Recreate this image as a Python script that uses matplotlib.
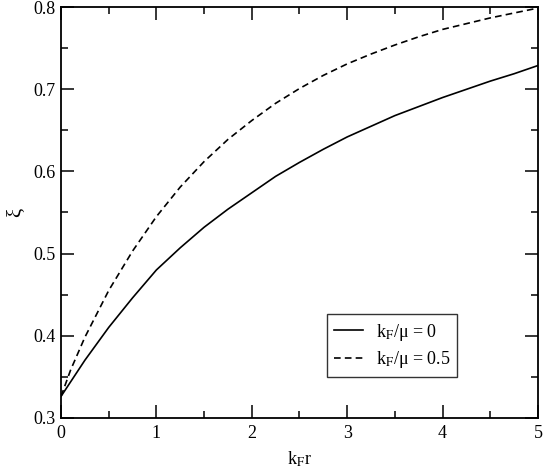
import numpy as np
import matplotlib
matplotlib.use('Agg')
import matplotlib.pyplot as plt
from matplotlib.ticker import MultipleLocator

plt.rcParams['font.family'] = ['Liberation Serif', 'DejaVu Serif']
plt.rcParams['mathtext.fontset'] = 'stix'

# values
kr_solid = [0, 0.25, 0.5, 0.75, 1.0, 1.25, 1.5, 1.75, 2.0, 2.25, 2.5, 2.75,
            3.0, 3.25, 3.5, 3.75, 4.0, 4.25, 4.5, 4.75, 5.0]
xi_solid = [0.326, 0.370, 0.410, 0.446, 0.480, 0.507, 0.532, 0.554, 0.574, 0.594,
            0.611, 0.627, 0.642, 0.655, 0.668, 0.679, 0.690, 0.700, 0.710, 0.719, 0.729]

kr_dash = [0, 0.1, 0.25, 0.5, 0.75, 1.0, 1.25, 1.5, 1.75, 2.0, 2.25, 2.5, 2.75,
           3.0, 3.25, 3.5, 3.75, 4.0, 4.25, 4.5, 4.75, 5.0]
xi_dash = [0.326, 0.358, 0.398, 0.455, 0.503, 0.545, 0.581, 0.612, 0.639, 0.662,
           0.683, 0.701, 0.717, 0.731, 0.743, 0.754, 0.764, 0.773, 0.780, 0.787,
           0.793, 0.799]

x_ticks = [0, 1, 2, 3, 4, 5]
y_ticks = [0.3, 0.4, 0.5, 0.6, 0.7, 0.8]
labels = [r'k$_\mathrm{F}$/μ = 0', r'k$_\mathrm{F}$/μ = 0.5']

fig = plt.figure(figsize=(5.45, 4.68), dpi=100)
ax = fig.add_axes([0.112, 0.1075, 0.875, 0.877])

ax.plot(kr_solid, xi_solid, color='black', lw=1.2, ls='-', label=labels[0])
ax.plot(kr_dash, xi_dash, color='black', lw=1.2, ls=(0, (4, 2.5)), label=labels[1])

ax.set_xlim(0, 5)
ax.set_ylim(0.3, 0.8)
ax.set_xticks(x_ticks)
ax.set_xticklabels([str(t) for t in x_ticks])
ax.set_yticks(y_ticks)
ax.set_yticklabels(['%.1f' % t for t in y_ticks])
ax.xaxis.set_minor_locator(MultipleLocator(0.5))
ax.yaxis.set_minor_locator(MultipleLocator(0.05))
ax.tick_params(which='both', direction='in', top=True, right=True, width=1.1,
               labelsize=13)
ax.tick_params(which='major', length=9.5, pad=5)
ax.tick_params(which='minor', length=5)
ax.tick_params(axis='y', which='major', pad=4)
for s in ax.spines.values():
    s.set_linewidth(1.3)

ax.set_xlabel(r'k$_\mathrm{F}$r', fontsize=13, labelpad=6)
ax.set_ylabel('ξ', fontsize=15, labelpad=6)

leg = ax.legend(loc='lower left', bbox_to_anchor=(0.558, 0.099, 0.272, 0.154),
                mode='expand', fontsize=13, frameon=True, fancybox=False,
                handlelength=1.6, handletextpad=0.7, borderpad=0.4,
                labelspacing=0.35, borderaxespad=0)
leg.get_frame().set_edgecolor('black')
leg.get_frame().set_linewidth(1.0)

fig.savefig('out.png', dpi=100)
